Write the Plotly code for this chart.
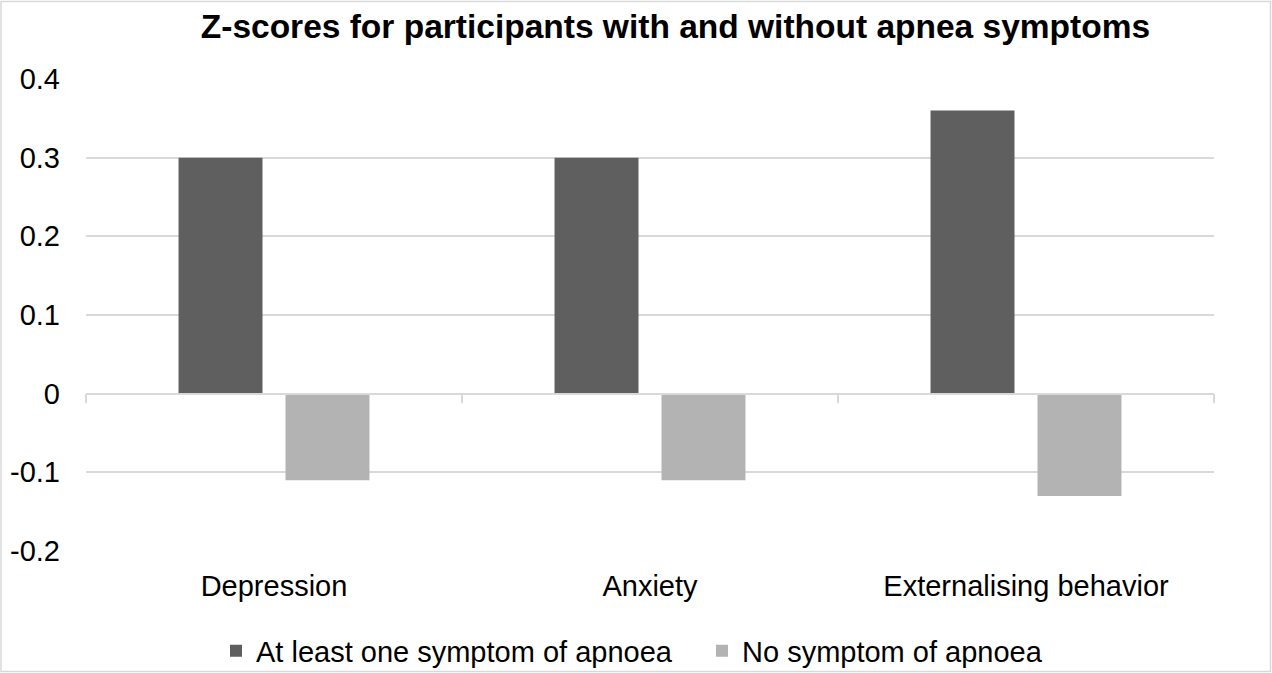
import plotly.graph_objects as go

categories = ["Depression", "Anxiety", "Externalising behavior"]
series_names = ["At least one symptom of apnoea", "No symptom of apnoea"]
with_symptom = [0.30, 0.30, 0.36]
no_symptom = [-0.11, -0.11, -0.13]
y_tickvals = [0.4, 0.3, 0.2, 0.1, 0, -0.1, -0.2]
y_ticktext = ["0.4", "0.3", "0.2", "0.1", "0", "-0.1", "-0.2"]
title_text = "Z-scores for participants with and without apnea symptoms"

W, H = 1272, 673
L, R, T, B = 86, 58, 79, 122
pw, ph = W - L - R, H - T - B

def px_x(p):
    return (p - L) / pw

def px_y(p):
    return (H - B - p) / ph

font = "Liberation Sans, Arial, sans-serif"
fs = 29

fig = go.Figure()
fig.add_trace(go.Bar(x=categories, y=with_symptom, name=series_names[0],
                     marker=dict(color="#5f5f5f", line=dict(width=0))))
fig.add_trace(go.Bar(x=categories, y=no_symptom, name=series_names[1],
                     marker=dict(color="#b3b3b3", line=dict(width=0))))
# invisible trace to build the zero-line axis with boundary ticks
fig.add_trace(go.Scatter(x=categories, y=[0, 0, 0], xaxis="x2", mode="none",
                         showlegend=False, hoverinfo="skip"))

ymin, ymax = -0.2, 0.4
fig.update_layout(
    width=W, height=H,
    margin=dict(l=L, r=R, t=T, b=B, pad=0, autoexpand=False),
    paper_bgcolor="white", plot_bgcolor="white",
    font=dict(family=font, size=fs, color="#000000"),
    title=dict(text="<b>" + title_text + "</b>", x=0.531, xanchor="center",
               y=1 - 26 / H, yanchor="middle",
               font=dict(family=font, size=33.5, color="#000000")),
    barmode="group", bargap=0.431, bargroupgap=0.215,
    xaxis=dict(type="category", showline=False, showgrid=False, ticks="",
               ticklabelstandoff=15, tickfont=dict(size=fs),
               range=[-0.5, 2.5], zeroline=False, automargin=False),
    xaxis2=dict(type="category", overlaying="x", anchor="free",
                position=(0 - ymin) / (ymax - ymin), side="bottom",
                showline=True, linecolor="#d9d9d9", linewidth=1.5,
                ticks="outside", tickson="boundaries", ticklen=9,
                tickcolor="#d9d9d9", tickwidth=1.5,
                showticklabels=False, showgrid=False, zeroline=False,
                range=[-0.5, 2.5], matches="x", automargin=False),
    yaxis=dict(range=[ymin, ymax], tickvals=y_tickvals, ticktext=y_ticktext,
               showgrid=True, gridcolor="#d9d9d9", gridwidth=1.5,
               zeroline=False, showline=False, ticks="",
               ticklabelstandoff=25, tickfont=dict(size=fs), automargin=False),
    legend=dict(orientation="h", x=px_x(216), xanchor="left",
                y=px_y(651), yanchor="middle", font=dict(size=fs),
                itemwidth=30, entrywidth=441, bgcolor="rgba(0,0,0,0)"),
    shapes=[dict(type="rect", xref="paper", yref="paper",
                 x0=px_x(1), x1=px_x(1270.5), y0=px_y(671.5), y1=px_y(1.5),
                 line=dict(color="#d9d9d9", width=1.5), layer="below")],
)

fig.write_html("out.html", config={"displayModeBar": False},
               post_script="document.body.style.margin='0';document.body.style.overflow='hidden';")
